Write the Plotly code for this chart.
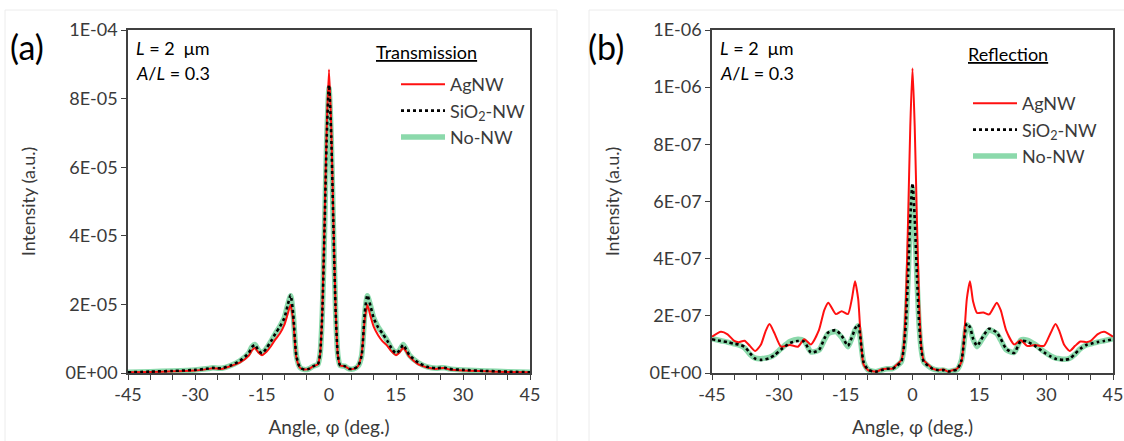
import numpy as np
import plotly.graph_objects as go

# ---------------- data: panel (a) Transmission (values in units of 1e-5) ----------------
ang_t = [-45, -40, -35, -30, -27, -26, -25, -24, -22, -20,
         -18, -17.3, -16.6, -15.8, -15, -14, -13, -12, -11, -10,
         -9.3, -8.6, -8, -7.3, -6.5, -5.5, -4.5, -3.5, -2.5,
         -2, -1.5, -1, -0.5,
         0,
         0.5, 1, 1.5, 2,
         2.5, 3.5, 4.5, 5.5, 6.5, 7.3, 8, 8.6, 9.3, 10,
         11, 12, 13, 14, 15, 15.8, 16.6, 17.3, 18, 20,
         22, 24, 25, 26, 27, 30, 35, 40, 45]
t_agnw = [0.02, 0.03, 0.05, 0.07, 0.12, 0.14, 0.13, 0.12, 0.20, 0.30,
          0.50, 0.65, 0.73, 0.60, 0.52, 0.62, 0.78, 0.98, 1.15, 1.40,
          1.70, 1.98, 1.50, 0.45, 0.15, 0.10, 0.12, 0.20, 0.25,
          0.55, 1.80, 4.40, 7.20,
          8.85,
          7.20, 4.40, 1.80, 0.50,
          0.22, 0.20, 0.12, 0.12, 0.20, 0.55, 1.55, 1.98, 1.65, 1.35,
          1.10, 0.92, 0.80, 0.63, 0.52, 0.60, 0.73, 0.62, 0.47, 0.25,
          0.16, 0.12, 0.14, 0.14, 0.10, 0.07, 0.05, 0.03, 0.02]
t_sio2 = [0.02, 0.04, 0.06, 0.09, 0.13, 0.15, 0.14, 0.14, 0.22, 0.35,
          0.58, 0.75, 0.82, 0.66, 0.57, 0.72, 0.92, 1.15, 1.35, 1.60,
          1.95, 2.27, 1.70, 0.50, 0.16, 0.10, 0.12, 0.20, 0.25,
          0.55, 1.75, 4.20, 6.90,
          8.40,
          6.90, 4.20, 1.75, 0.50,
          0.22, 0.20, 0.12, 0.12, 0.20, 0.50, 1.75, 2.27, 1.95, 1.60,
          1.33, 1.15, 0.95, 0.72, 0.57, 0.66, 0.82, 0.68, 0.52, 0.30,
          0.18, 0.14, 0.15, 0.15, 0.12, 0.09, 0.06, 0.04, 0.02]
t_nonw = [0.02, 0.04, 0.06, 0.09, 0.13, 0.15, 0.14, 0.14, 0.22, 0.35,
          0.58, 0.76, 0.83, 0.67, 0.58, 0.72, 0.92, 1.15, 1.36, 1.61,
          1.96, 2.25, 1.70, 0.50, 0.16, 0.10, 0.12, 0.20, 0.25,
          0.55, 1.72, 4.15, 6.85,
          8.30,
          6.85, 4.15, 1.72, 0.50,
          0.22, 0.20, 0.12, 0.12, 0.20, 0.50, 1.72, 2.25, 1.96, 1.61,
          1.34, 1.15, 0.95, 0.72, 0.58, 0.67, 0.83, 0.69, 0.52, 0.30,
          0.18, 0.14, 0.15, 0.15, 0.12, 0.09, 0.06, 0.04, 0.02]
T_UNIT = 1e-5

# ---------------- data: panel (b) Reflection (values in units of 1e-7) ----------------
ang_r = [-45, -43, -41.5, -40, -39, -37.7, -36.5, -35.3, -34, -33,
         -32.1, -31, -29.5, -27.5, -25.7, -24.3, -22.8, -21, -19.8, -18.9,
         -17.2, -15.9, -14.5, -13.6, -12.9, -12.2, -11, -10, -9, -8,
         -7, -5.8, -4.5, -3.5, -2.5, -2, -1.5, -1, -0.5,
         0,
         0.5, 1, 1.5, 2, 2.5, 3.5, 4.5, 5.8, 7,
         8, 9, 10, 11, 12.2, 12.9, 13.6, 14.5, 15.9, 17.2,
         18.9, 19.8, 21, 22.8, 24.3, 25.7, 27.5, 29.5, 31, 32.1,
         33, 34, 35.3, 36.5, 37.7, 39, 40, 41.5, 43, 45]
r_agnw = [1.27, 1.44, 1.35, 1.12, 1.08, 1.13, 0.95, 0.77, 1.00, 1.45,
          1.71, 1.40, 0.92, 0.98, 0.92, 1.18, 1.00, 1.50, 2.20, 2.46,
          2.06, 2.16, 2.06, 2.60, 3.21, 2.60, 0.30, 0.10, 0.06, 0.05,
          0.12, 0.15, 0.15, 0.30, 0.45, 0.90, 2.40, 5.30, 8.60,
          10.66,
          8.60, 5.30, 2.40, 0.90, 0.45, 0.30, 0.15, 0.10, 0.12,
          0.05, 0.10, 0.15, 0.40, 2.60, 3.21, 2.50, 2.10, 2.12, 2.05,
          2.46, 2.20, 1.50, 1.00, 1.15, 0.95, 0.98, 0.95, 1.40, 1.71,
          1.45, 1.00, 0.77, 0.95, 1.10, 1.08, 1.12, 1.35, 1.44, 1.27]
r_sio2 = [1.18, 1.12, 1.08, 1.02, 1.00, 0.92, 0.70, 0.50, 0.46, 0.48,
          0.52, 0.62, 0.82, 1.05, 1.12, 1.10, 0.72, 0.80, 1.20, 1.42,
          1.50, 1.30, 0.95, 1.25, 1.55, 1.70, 0.40, 0.12, 0.06, 0.05,
          0.10, 0.15, 0.15, 0.25, 0.40, 0.80, 1.70, 3.40, 5.40,
          6.64,
          5.40, 3.40, 1.70, 0.80, 0.40, 0.25, 0.15, 0.10, 0.10,
          0.05, 0.08, 0.12, 0.45, 1.73, 1.60, 1.20, 0.95, 1.30, 1.55,
          1.42, 1.20, 0.85, 0.70, 1.12, 1.10, 0.95, 0.72, 0.58, 0.50,
          0.47, 0.46, 0.50, 0.68, 0.85, 0.98, 1.02, 1.08, 1.12, 1.18]
r_nonw = [1.20, 1.13, 1.08, 1.02, 0.98, 0.88, 0.66, 0.52, 0.50, 0.52,
          0.55, 0.64, 0.85, 1.10, 1.18, 1.12, 0.74, 0.80, 1.15, 1.38,
          1.45, 1.25, 0.92, 1.22, 1.50, 1.65, 0.40, 0.12, 0.06, 0.05,
          0.10, 0.15, 0.15, 0.25, 0.40, 0.78, 1.65, 3.30, 5.25,
          6.45,
          5.25, 3.30, 1.65, 0.78, 0.40, 0.25, 0.15, 0.10, 0.10,
          0.05, 0.08, 0.12, 0.45, 1.68, 1.56, 1.18, 0.92, 1.25, 1.50,
          1.38, 1.15, 0.82, 0.72, 1.15, 1.15, 1.00, 0.75, 0.60, 0.52,
          0.50, 0.48, 0.52, 0.66, 0.85, 0.98, 1.02, 1.08, 1.13, 1.20]
R_UNIT = 1e-7

x_ticks = [-45, -30, -15, 0, 15, 30, 45]
x_ticklabels = ["-45", "-30", "-15", "0", "15", "30", "45"]
yticks_a = [0, 2e-5, 4e-5, 6e-5, 8e-5, 1e-4]
yticklabels_a = ["0E+00", "2E-05", "4E-05", "6E-05", "8E-05", "1E-04"]
yticks_b = [0, 2e-7, 4e-7, 6e-7, 8e-7, 1e-6, 1.2e-6]
yticklabels_b = ["0E+00", "2E-07", "4E-07", "6E-07", "8E-07", "1E-06", "1E-06"]
series_names = ["AgNW", "SiO<sub>2</sub>-NW", "No-NW"]

# ---------------- figure ----------------
W, H = 1124, 441
FONT = "Lato"
TXT = "#3a3a3a"
RED = "#ff1010"
GREEN = "rgba(110,208,150,0.8)"


def px_x(p):
    return p / W


def px_y(p):
    return 1 - p / H


fig = go.Figure()


def add_panel(ang, ag, si, no, unit, xa, ya, legend):
    a = np.array(ang)
    fig.add_trace(go.Scatter(x=a, y=np.array(no) * unit, mode="lines", name=series_names[2],
                             xaxis=xa, yaxis=ya, legend=legend, legendrank=3,
                             line=dict(color=GREEN, width=5.5, shape="spline", smoothing=0.6)))
    fig.add_trace(go.Scatter(x=a, y=np.array(ag) * unit, mode="lines", name=series_names[0],
                             xaxis=xa, yaxis=ya, legend=legend, legendrank=1,
                             line=dict(color=RED, width=2, shape="spline", smoothing=0.6)))
    fig.add_trace(go.Scatter(x=a, y=np.array(si) * unit, mode="lines", name=series_names[1],
                             xaxis=xa, yaxis=ya, legend=legend, legendrank=2,
                             line=dict(color="black", width=2.6, dash="dot", shape="spline", smoothing=0.6)))


add_panel(ang_t, t_agnw, t_sio2, t_nonw, T_UNIT, "x", "y", "legend")
add_panel(ang_r, r_agnw, r_sio2, r_nonw, R_UNIT, "x2", "y2", "legend2")

ydom = [px_y(373), px_y(30)]
common_x = dict(range=[-45, 45], tickvals=x_ticks, ticktext=x_ticklabels, ticks="outside", ticklen=5,
                tickwidth=1.2, tickcolor="#404040", showline=True, linecolor="#404040", linewidth=1.5,
                mirror=True, showgrid=False, zeroline=False, automargin=False,
                minor=dict(dtick=5, ticks="outside", ticklen=5, tickwidth=1.2, tickcolor="#404040",
                           showgrid=False),
                tickfont=dict(family=FONT, size=18, color=TXT),
                title=dict(text="Angle, φ (deg.)", font=dict(family=FONT, size=19, color=TXT), standoff=16))
common_y = dict(ticks="outside", ticklen=5, tickwidth=1.2, tickcolor="#404040",
                showline=True, linecolor="#404040", linewidth=1.5, mirror=True,
                showgrid=False, zeroline=False, automargin=False,
                tickfont=dict(family=FONT, size=18, color=TXT),
                title=dict(text="Intensity (a.u.)", font=dict(family=FONT, size=18, color=TXT), standoff=25))

fig.update_layout(
    width=W, height=H,
    margin=dict(l=0, r=0, t=0, b=0, autoexpand=False),
    paper_bgcolor="white", plot_bgcolor="white",
    font=dict(family=FONT, color=TXT),
    xaxis=dict(domain=[px_x(128), px_x(530)], anchor="y", **common_x),
    yaxis=dict(domain=ydom, anchor="x", range=[0, 1e-4], tickvals=yticks_a,
               ticktext=yticklabels_a, **common_y),
    xaxis2=dict(domain=[px_x(712), px_x(1113)], anchor="y2", **common_x),
    yaxis2=dict(domain=ydom, anchor="x2", range=[0, 1.2e-6], tickvals=yticks_b,
                ticktext=yticklabels_b, **common_y),
    legend=dict(x=px_x(396), y=px_y(66), xanchor="left", yanchor="top",
                bgcolor="rgba(0,0,0,0)", itemwidth=44,
                font=dict(family=FONT, size=18, color=TXT)),
    legend2=dict(x=px_x(968), y=px_y(85), xanchor="left", yanchor="top",
                 bgcolor="rgba(0,0,0,0)", itemwidth=44,
                 font=dict(family=FONT, size=18, color=TXT)),
)

ann = []


def add_text(x, y, text, size, xanchor="left"):
    ann.append(dict(x=px_x(x), y=px_y(y), xref="paper", yref="paper", text=text, showarrow=False,
                    xanchor=xanchor, yanchor="middle", font=dict(family=FONT, size=size, color="black")))


add_text(8, 46, "(a)", 34)
add_text(586, 46, "(b)", 34)
add_text(134, 48, "<i>L</i> = 2\u00a0 μm", 18)
add_text(134, 73, "<i>A</i>/<i>L</i> = 0.3", 18)
add_text(718, 48, "<i>L</i> = 2\u00a0 μm", 18)
add_text(718, 73, "<i>A</i>/<i>L</i> = 0.3", 18)
add_text(374, 52, "<u>Transmission</u>", 18)
add_text(966, 54, "<u>Reflection</u>", 18)
fig.update_layout(annotations=ann)

# faint outline of the two chart areas
shapes = [
    dict(type="rect", xref="paper", yref="paper", x0=px_x(5), x1=px_x(557), y0=px_y(445), y1=px_y(10),
         line=dict(color="#ececec", width=1)),
    dict(type="rect", xref="paper", yref="paper", x0=px_x(589), x1=px_x(1130), y0=px_y(445), y1=px_y(10),
         line=dict(color="#ececec", width=1)),
]
fig.update_layout(shapes=shapes)

fig.write_html("out.html", config={"displayModeBar": False},
               post_script="document.body.style.margin='0';document.body.style.overflow='hidden';")
